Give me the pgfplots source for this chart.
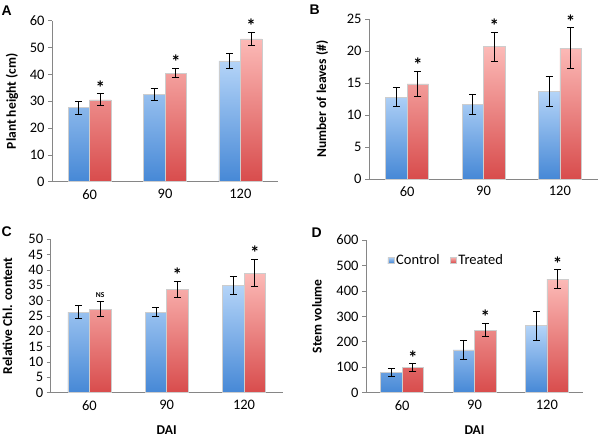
\documentclass[border=0pt]{standalone}
\usepackage{fontspec}
\setmainfont{Carlito}
\newfontfamily\letterfont{Liberation Sans}
\usepackage{pgfplots}
\pgfplotsset{compat=1.18}

\definecolor{blueTop}{RGB}{180,212,248}
\definecolor{blueBot}{RGB}{70,136,214}
\definecolor{redTop}{RGB}{252,186,183}
\definecolor{redBot}{RGB}{216,76,76}
\definecolor{axisgray}{RGB}{134,134,134}
\definecolor{edgegray}{RGB}{205,205,205}

\pgfplotsset{
  panel/.style={
    scale only axis, anchor=south west, clip=false,
    axis x line*=bottom, axis y line*=left,
    axis line style={draw=axisgray, -, line width=0.7pt},
    xmin=-0.5, xmax=2.5, ymin=0,
    ybar=0pt, bar width=21.5pt,
    xtick={0,1,2}, xticklabels={60,90,120},
    major x tick style={draw=none},
    extra x ticks={-0.5,0.5,1.5,2.5}, extra x tick labels={},
    extra x tick style={major tick length=5pt, tick style={draw=axisgray, line width=0.7pt}},
    tick align=outside,
    ytick style={draw=axisgray, line width=0.7pt}, major tick length=4pt,
    /pgf/number format/assume math mode=true,
    tick label style={font=\fontsize{14.5}{16}\selectfont, black},
    ylabel style={font=\bfseries\fontsize{13.5}{15}\selectfont, anchor=center},
    xlabel style={font=\bfseries\fontsize{13.5}{15}\selectfont, at={(axis description cs:0.5,0)}, anchor=center, yshift=-37.5pt},
    error bars/y dir=both, error bars/y explicit,
    error bars/error bar style={black, line width=0.9pt},
    error bars/error mark options={black, line width=0.9pt, mark size=3.5pt, rotate=90},
  },
  ctrl/.style={draw=edgegray, line width=0.6pt, top color=blueTop, bottom color=blueBot},
  trt/.style={draw=edgegray, line width=0.6pt, top color=redTop, bottom color=redBot},
}
\newcommand{\sigmark}[2]{\node[anchor=base, inner sep=0pt, yshift=-0.5pt, font=\bfseries\fontsize{19}{19}\selectfont] at ([xshift=10.75pt]axis cs:#1,#2) {*};}

\begin{document}
\begin{tikzpicture}
\useasboundingbox (0pt,0pt) rectangle (600pt,438pt);

% A
\begin{axis}[panel, at={(52pt,256.3pt)}, width=226pt, height=161pt,
  ymax=60, ytick={0,10,...,60},
  ylabel={Plant height (cm)}, ylabel style={at={(axis description cs:-0.177,0.5)}}]
\addplot[ctrl] coordinates {(0,27.6) +- (0,2.4) (1,32.5) +- (0,2.3) (2,45.0) +- (0,2.8)};
\addplot[trt] coordinates {(0,30.5) +- (0,2.2) (1,40.5) +- (0,1.8) (2,53.2) +- (0,2.6)};
\sigmark{0}{32.7}\sigmark{1}{42.3}\sigmark{2}{55.8}
\end{axis}

% B
\begin{axis}[panel, at={(369pt,259pt)}, width=229pt, height=159.7pt,
  ymax=25, ytick={0,5,...,25},
  ylabel={Number of leaves (\#)}, ylabel style={at={(axis description cs:-0.205,0.5)}}]
\addplot[ctrl] coordinates {(0,12.8) +- (0,1.5) (1,11.7) +- (0,1.6) (2,13.7) +- (0,2.35)};
\addplot[trt] coordinates {(0,14.9) +- (0,1.95) (1,20.7) +- (0,2.25) (2,20.5) +- (0,3.15)};
\sigmark{0}{16.85}\sigmark{1}{22.95}\sigmark{2}{23.65}
\end{axis}

% C
\begin{axis}[panel, at={(50.7pt,45.3pt)}, width=232pt, height=153.4pt,
  ymax=50, ytick={0,5,...,50},
  ylabel={Relative Chl. content}, ylabel style={at={(axis description cs:-0.186,0.5)}},
  xlabel={DAI}]
\addplot[ctrl] coordinates {(0,26.3) +- (0,2.1) (1,26.3) +- (0,1.4) (2,35.1) +- (0,2.95)};
\addplot[trt] coordinates {(0,27.2) +- (0,2.4) (1,33.7) +- (0,2.6) (2,39.0) +- (0,4.5)};
\node[anchor=south, inner sep=0pt, yshift=4.5pt, font=\bfseries\fontsize{7.5}{8}\selectfont] at ([xshift=10.75pt]axis cs:0,29.6) {NS};
\sigmark{1}{36.3}\sigmark{2}{43.5}
\end{axis}

% D
\begin{axis}[panel, at={(366pt,45.3pt)}, width=217pt, height=152.7pt,
  ymax=600, ytick={0,100,...,600},
  ylabel={Stem volume}, ylabel style={at={(axis description cs:-0.226,0.5)}},
  xlabel={DAI},
  legend columns=2,
  legend style={at={(axis description cs:0.085,0.869)}, anchor=west, draw=none, fill=none,
    font=\fontsize{14.5}{16}\selectfont, /tikz/every even column/.append style={column sep=8pt}},
  legend image code/.code={\path[#1] (0pt,-3pt) rectangle (6pt,3pt);}]
\addplot[ctrl] coordinates {(0,81) +- (0,16) (1,168) +- (0,37) (2,263) +- (0,58)};
\addlegendentry{Control}
\addplot[trt] coordinates {(0,98) +- (0,16) (1,246) +- (0,26) (2,446) +- (0,37)};
\addlegendentry{Treated}
\sigmark{0}{114}\sigmark{1}{272}\sigmark{2}{483}
\end{axis}

% panel letters
\node[anchor=west, inner sep=0pt, font=\letterfont\bfseries\fontsize{14}{14}\selectfont] at (1.5pt,427.5pt) {A};
\node[anchor=west, inner sep=0pt, font=\letterfont\bfseries\fontsize{14}{14}\selectfont] at (309.5pt,428.5pt) {B};
\node[anchor=west, inner sep=0pt, font=\letterfont\bfseries\fontsize{14}{14}\selectfont] at (1.5pt,206pt) {C};
\node[anchor=west, inner sep=0pt, font=\letterfont\bfseries\fontsize{14}{14}\selectfont] at (311.5pt,205pt) {D};
\end{tikzpicture}
\end{document}
